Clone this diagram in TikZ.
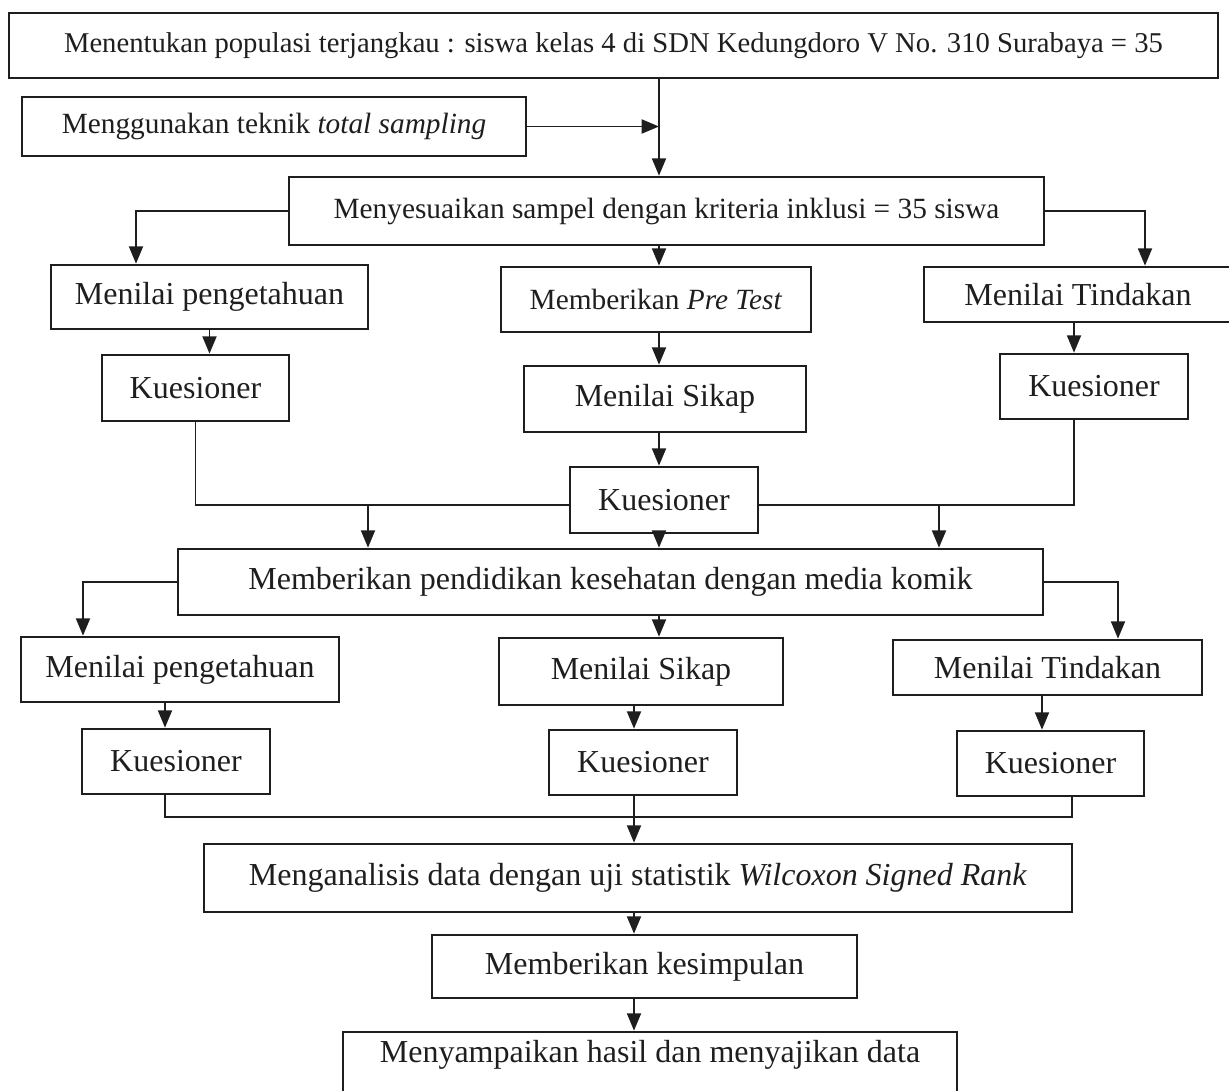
\documentclass[tikz,border=0pt]{standalone}
\usepackage{fontspec}
\setmainfont{Liberation Serif}
\usetikzlibrary{arrows.meta}

\definecolor{ink}{RGB}{30,30,30}
\tikzset{
	box/.style={draw=ink, line width=2pt, inner sep=0pt, text=ink, font=\fontsize{24}{28}\selectfont},
	boxsm/.style={box, font=\fontsize{22}{26}\selectfont},
	boxtop/.style={box, font=\fontsize{21.5}{26}\selectfont},
	sz/.style 2 args={minimum width=#1*0.75pt, minimum height=#2*0.75pt},
	link/.style={draw=ink, line width=1.4pt},
	arr/.style={link, -{Triangle[length=13pt,width=10.5pt]}}
}

\begin{document}
\begin{tikzpicture}[x=0.75pt,y=0.75pt,yscale=-1,xscale=1]
	\useasboundingbox (0,0) rectangle (1229,1090);
	\clip (0,0) rectangle (1229,1090);
	
	%Shape: Rectangle [top rows]
	\node [boxtop, sz={1209}{65}] (top) at (613.5,45.5) {Menentukan populasi terjangkau : siswa kelas 4 di SDN Kedungdoro V No. 310 Surabaya = 35};
	\node [boxsm, sz={504}{59}] (tsamp) at (274,126.5) {Menggunakan teknik \textit{total sampling}};
	\node [boxsm, sz={755}{68}] (sampel) at (666.5,211) {Menyesuaikan sampel dengan kriteria inklusi = 35 siswa};
	
	%Shape: Rectangle [pre test branch]
	\node [box, sz={317}{64}] (pengA) at (209.5,297) {Menilai pengetahuan};
	\node [boxsm, sz={310}{65}] (pretest) at (656,299.5) {Memberikan \textit{Pre Test}};
	\node [box, sz={308}{55}] (tindA) at (1078,294.5) {Menilai Tindakan};
	\node [box, sz={187}{66}] (kuesA) at (195.5,388) {Kuesioner};
	\node [box, sz={282}{66}] (sikapA) at (665,399) {Menilai Sikap};
	\node [box, sz={188}{65}] (kuesTA) at (1094,386.5) {Kuesioner};
	\node [box, sz={188}{66}] (kuesSA) at (664,500) {Kuesioner};
	
	%Shape: Rectangle [post test branch]
	\node [box, sz={865}{66}] (didik) at (610.5,582) {Memberikan pendidikan kesehatan dengan media komik};
	\node [box, sz={318}{65}] (pengB) at (180,669.5) {Menilai pengetahuan};
	\node [box, sz={284}{67}] (sikapB) at (641,671.5) {Menilai Sikap};
	\node [box, sz={309}{55}] (tindB) at (1047.5,667.5) {Menilai Tindakan};
	\node [box, sz={188}{65}] (kuesB) at (176,761.5) {Kuesioner};
	\node [box, sz={188}{65}] (kuesSB) at (643,762.5) {Kuesioner};
	\node [box, sz={187}{65}] (kuesTB) at (1050.5,763.5) {Kuesioner};
	
	%Shape: Rectangle [closing steps]
	\node [box, sz={868}{68}] (analisis) at (638,878) {Menganalisis data dengan uji statistik \textit{Wilcoxon Signed Rank}};
	\node [box, sz={425}{63}] (simpul) at (644.5,966.5) {Memberikan kesimpulan};
	\node [box, sz={614}{68}, text depth=22pt] (hasil) at (650,1066) {Menyampaikan hasil dan menyajikan data};
	
	% columns and joints
	\coordinate (cU) at (659,0);
	\coordinate (cD) at (634,0);
	\coordinate (bL1) at (136,0);
	\coordinate (bR1) at (1145,0);
	\coordinate (qR1) at (1074,0);
	\coordinate (jL) at (368,505);
	\coordinate (jR) at (939,505);
	\coordinate (bL2) at (83,0);
	\coordinate (bR2) at (1118,0);
	\coordinate (qL2) at (165,0);
	\coordinate (qR2) at (1042,0);
	\coordinate (qR3) at (1072,0);
	\coordinate (jB) at (0,817);
	
	%Straight Lines [top]
	\draw [arr] (top.south -| cU) -- (sampel.north -| cU);
	\draw [arr] (tsamp.east) -- (tsamp.east -| cU);
	\draw [arr] (sampel.west) -| (pengA.north -| bL1);
	\draw [arr] (sampel.east) -| (tindA.north -| bR1);
	\draw [arr] (sampel.south -| cU) -- (pretest.north -| cU);
	
	%Straight Lines [pre test branch]
	\draw [arr] (pengA.south) -- (pengA.south |- kuesA.north);
	\draw [arr] (pretest.south -| cU) -- (sikapA.north -| cU);
	\draw [arr] (tindA.south -| qR1) -- (kuesTA.north -| qR1);
	\draw [arr] (sikapA.south -| cU) -- (kuesSA.north -| cU);
	\draw [link] (kuesA.south) |- (kuesSA.west |- jL);
	\draw [link] (kuesTA.south -| qR1) |- (kuesSA.east |- jR);
	\draw [arr] (jL) -- (didik.north -| jL);
	\draw [arr] (jR) -- (didik.north -| jR);
	\draw [arr] (kuesSA.south -| cU) -- (didik.north -| cU);
	
	%Straight Lines [post test branch]
	\draw [arr] (didik.west) -| (pengB.north -| bL2);
	\draw [arr] (didik.east) -| (tindB.north -| bR2);
	\draw [arr] (didik.south -| cU) -- (sikapB.north -| cU);
	\draw [arr] (pengB.south -| qL2) -- (kuesB.north -| qL2);
	\draw [arr] (sikapB.south -| cD) -- (kuesSB.north -| cD);
	\draw [arr] (tindB.south -| qR2) -- (kuesTB.north -| qR2);
	\draw [link] (kuesB.south -| qL2) -- (jB -| qL2) -- (jB -| qR3) -- (kuesTB.south -| qR3);
	
	%Straight Lines [closing steps]
	\draw [arr] (kuesSB.south -| cD) -- (analisis.north -| cD);
	\draw [arr] (analisis.south -| cD) -- (simpul.north -| cD);
	\draw [arr] (simpul.south -| cD) -- (hasil.north -| cD);
	
\end{tikzpicture}
\end{document}
